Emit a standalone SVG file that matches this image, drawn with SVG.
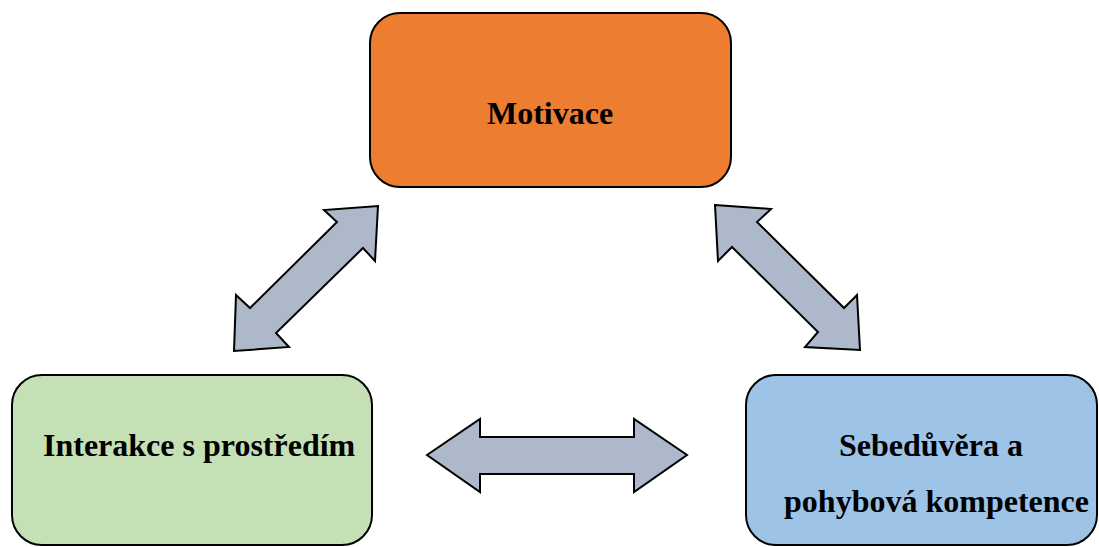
<svg xmlns="http://www.w3.org/2000/svg" width="1099" height="547" viewBox="0 0 1099 547">
<style>
.box{stroke:#000;stroke-width:2}
.arrow{fill:#ADB9CA;stroke:#000;stroke-width:2;stroke-linejoin:miter}
text{font-family:"Liberation Serif","Times New Roman",serif;font-weight:bold;font-size:32px;fill:#000}
</style>
<rect width="1099" height="547" fill="#fff"/>
<g id="connectors">
<polygon class="arrow" points="378,206 375,261 363,248 276,333 289,347 234,351 236,295 250,308 337,222 324,210"/>
<polygon class="arrow" points="715,205 771,209 757,222 844,308 857,295 860,350 805,347 818,332 732,247 718,261"/>
<polygon class="arrow" points="427,455 480,419 480,437 634,437 634,419 687,455 634,492 634,474 480,474 480,492"/>
</g>
<g id="motivace">
<rect class="box" x="370" y="13" width="361" height="174" rx="30" fill="#ED7D31"/>
<text x="550" y="124" text-anchor="middle">Motivace</text>
</g>
<g id="interakce">
<rect class="box" x="12" y="375" width="360" height="170" rx="30" fill="#C5E0B4"/>
<text x="43" y="456">Interakce s prostředím</text>
</g>
<g id="sebeduvera">
<rect class="box" x="746" y="375" width="351" height="170" rx="30" fill="#9DC3E6"/>
<text x="931" y="456" text-anchor="middle">Sebedůvěra a</text>
<text x="936.5" y="512" text-anchor="middle">pohybová kompetence</text>
</g>
</svg>
